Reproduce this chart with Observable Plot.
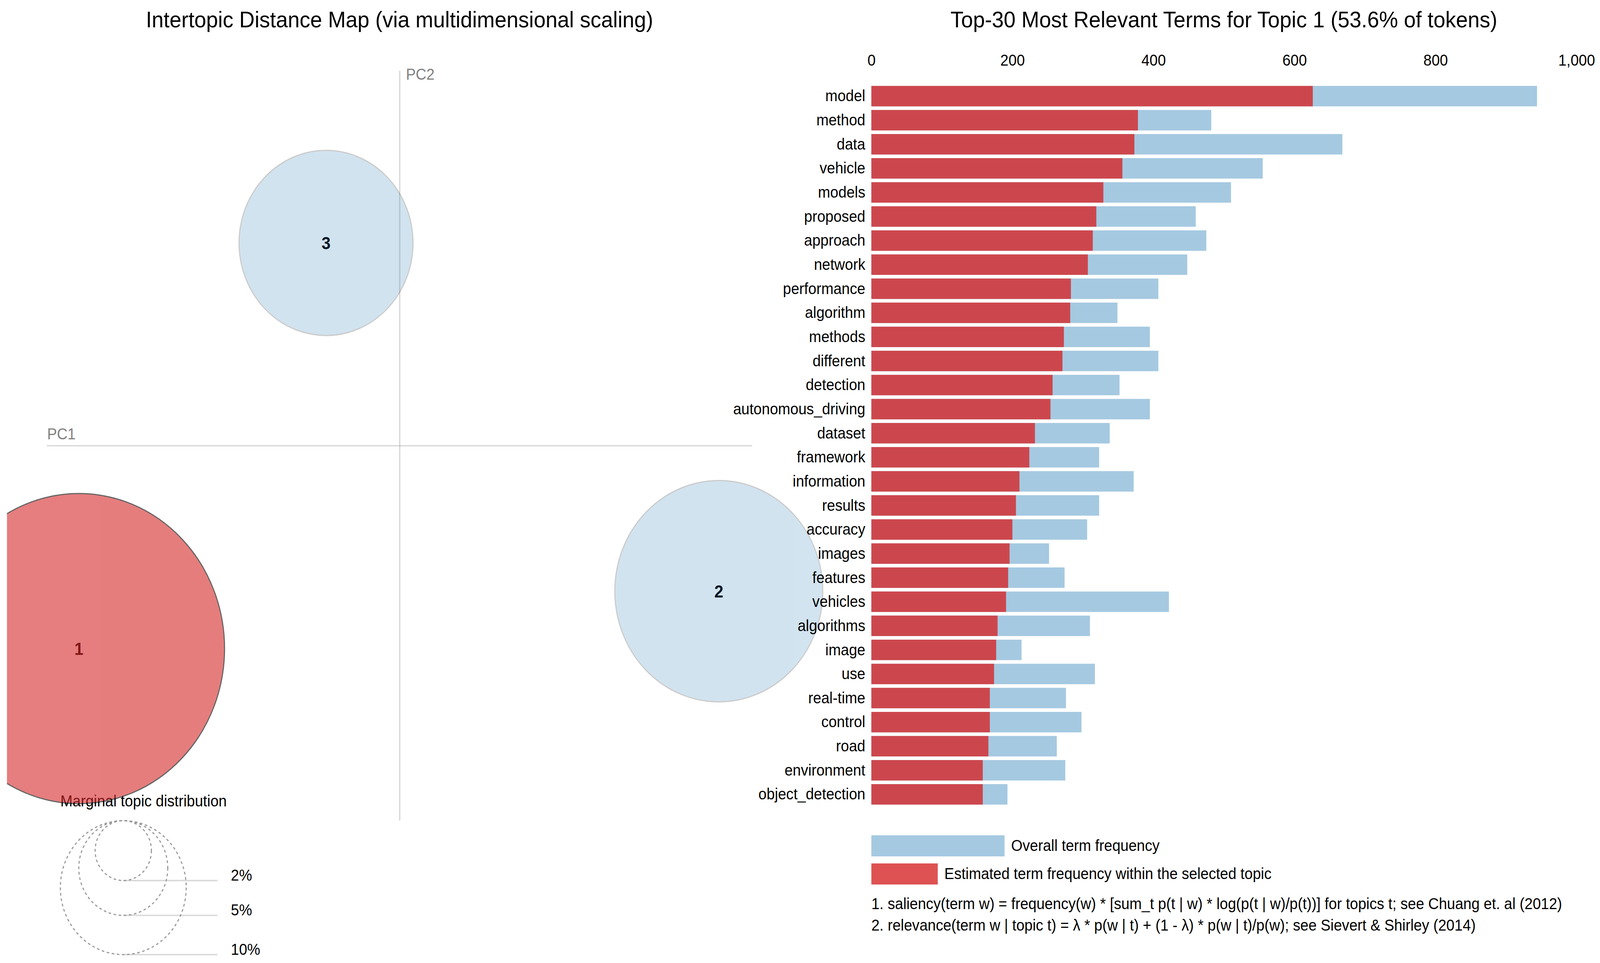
<!DOCTYPE html>
<html>
<head>
<meta charset="utf-8">
<script src="https://cdn.jsdelivr.net/npm/d3@7"></script>
<script src="https://cdn.jsdelivr.net/npm/@observablehq/plot@0.6"></script>
<style>
  html, body { margin: 0; padding: 0; background: #fff; overflow: hidden; }
  #page { position: absolute; left: 0; top: 0; width: 4361px; height: 2466px; background: #fff; overflow: hidden; transform-origin: 0 0; }
  #page svg { position: absolute; }
</style>
</head>
<body>
<div id="page"></div>
<script>
// ---------------- data ----------------
const topicIds  = [1, 2, 3];
const topicPC1  = [-0.910, 0.905, -0.209];
const topicPC2  = [-0.541, -0.388, 0.541];
const topicFreq = [53.6, 27.3, 19.1];   // % of tokens

const terms = ["model","method","data","vehicle","models","proposed","approach","network",
  "performance","algorithm","methods","different","detection","autonomous_driving","dataset",
  "framework","information","results","accuracy","images","features","vehicles","algorithms",
  "image","use","real-time","control","road","environment","object_detection"];
const estFreq   = [626, 378, 373, 356, 329, 319, 314, 307, 283, 282, 273, 271, 257, 254, 232,
  224, 210, 205, 200, 196, 194, 191, 179, 177, 174, 168, 168, 166, 158, 158];
const totalFreq = [944, 482, 668, 555, 510, 460, 475, 448, 407, 349, 395, 407, 352, 395, 338,
  323, 372, 323, 306, 252, 274, 422, 310, 213, 317, 276, 298, 263, 275, 193];
const xTicks = [0, 200, 400, 600, 800, 1000];
const legendSizes = [2, 5, 10];

const leftTitle  = "Intertopic Distance Map (via multidimensional scaling)";
const rightTitle = "Top-30 Most Relevant Terms for Topic 1 (53.6% of tokens)";
const legendTitle = "Marginal topic distribution";
const barLegend = ["Overall term frequency", "Estimated term frequency within the selected topic"];
const notes = [
  "1. saliency(term w) = frequency(w) * [sum_t p(t | w) * log(p(t | w)/p(t))] for topics t; see Chuang et. al (2012)",
  "2. relevance(term w | topic t) = \u03bb * p(w | t) + (1 - \u03bb) * p(w | t)/p(w); see Sievert & Shirley (2014)"
];

// ---------------- build ----------------
const FONT = "'Liberation Sans', Arial, Helvetica, sans-serif";
const page = document.getElementById("page");
const sx = (window.innerWidth || 4361) / 4361;
const sy = (window.innerHeight || 2466) / 2466;
page.style.transform = `scale(${sx}, ${sy})`;

const topics = topicIds.map((id, i) => ({id, pc1: topicPC1[i], pc2: topicPC2[i], freq: topicFreq[i]}));
const termRows = terms.map((t, i) => ({term: t, est: estFreq[i], total: totalFreq[i]}));

const R10 = 171.5;
const rOpts = {type: "sqrt", domain: [0, 10], range: [0, R10]};
const blue = "#1f77b4", red = "#d62728";

function place(el, x, y) { el.style.left = x + "px"; el.style.top = y + "px"; page.appendChild(el); }
function addText(str, x, baseline, size, anchor = "start", color = "#000") {
  const d = document.createElement("div");
  d.textContent = str;
  Object.assign(d.style, {position: "absolute", fontSize: size + "px", lineHeight: size + "px",
    whiteSpace: "nowrap", color, fontFamily: FONT});
  if (anchor === "middle") d.style.transform = "translateX(-50%)";
  place(d, x, baseline - 0.8465 * size);
}
function addRect(x, y, w, h, color) {
  const d = document.createElement("div");
  Object.assign(d.style, {position: "absolute", width: w + "px", height: h + "px", background: color});
  place(d, x, y);
}

// Left panel: MDS map
const left = Plot.plot({
  width: 2281, height: 2466,
  marginLeft: 109, marginRight: 250, marginTop: 181, marginBottom: 365,
  x: {domain: [-1, 1], axis: null},
  y: {domain: [-1, 1], axis: null},
  r: rOpts,
  style: {fontFamily: FONT, fontSize: "40px", background: "transparent", overflow: "hidden"},
  marks: [
    Plot.ruleY([0], {stroke: "gray", strokeOpacity: 0.3, strokeWidth: 3.6}),
    Plot.ruleX([0], {stroke: "gray", strokeOpacity: 0.3, strokeWidth: 3.6}),
    Plot.text(["PC1"], {y: [0], frameAnchor: "left", textAnchor: "start", lineAnchor: "bottom", dy: -17, fill: "gray", fontSize: 40}),
    Plot.text(["PC2"], {x: [0], frameAnchor: "top", textAnchor: "start", lineAnchor: "bottom", dx: 17, dy: 22, fill: "gray", fontSize: 40}),
    Plot.text([legendTitle], {frameAnchor: "bottom-left", textAnchor: "start", lineAnchor: "bottom", dx: 36, dy: -37, fontSize: 40, fill: "#000"}),
    Plot.text(topics, {x: "pc1", y: "pc2", text: d => String(d.id), fontWeight: "bold", fontSize: 44, dy: 2, fill: "#000"}),
    Plot.dot(topics.filter(d => d.id !== 1), {x: "pc1", y: "pc2", r: "freq", fill: blue, stroke: "black", strokeWidth: 3, opacity: 0.2}),
    Plot.dot(topics.filter(d => d.id === 1), {x: "pc1", y: "pc2", r: "freq", fill: red, stroke: "black", strokeWidth: 3, opacity: 0.6})
  ]
});
left.style.left = "19px"; left.style.top = "0px";
page.appendChild(left);

// Circle-size legend
const rScale = Plot.scale({r: rOpts});
const legendData = legendSizes.map(v => ({v, label: v + "%", rad: rScale.apply(v)}));
const lcx = 36 + R10, ltop = 41, lcx2 = lcx + 1.5 * R10;
const legendPlot = Plot.plot({
  width: 720, height: 406, margin: 0,
  x: {type: "identity", axis: null},
  y: {type: "identity", axis: null},
  r: rOpts,
  style: {fontFamily: FONT, fontSize: "40px", background: "transparent"},
  marks: [
    Plot.ruleY(legendData, {y: d => ltop + 2 * d.rad, x1: lcx, x2: lcx2, stroke: "gray", strokeOpacity: 0.3, strokeWidth: 3.6}),
    Plot.dot(legendData, {x: lcx, y: d => ltop + d.rad, r: "v", fill: "none", stroke: "#999", strokeWidth: 3, strokeDasharray: "7 7"}),
    Plot.text(legendData, {x: lcx2 + 36, y: d => ltop + 2 * d.rad, text: "label", textAnchor: "start", lineAnchor: "bottom", fontSize: 40, fill: "#000"})
  ]
});
legendPlot.style.left = "128px"; legendPlot.style.top = "2060px";
page.appendChild(legendPlot);

// Right panel: bar chart
const right = Plot.plot({
  width: 2461, height: 2100,
  marginLeft: 475, marginRight: 64, marginTop: 210.7, marginBottom: 30.4,
  x: {domain: [0, 1000], axis: "top", ticks: xTicks, tickFormat: d3.format(","), tickSize: 0, tickPadding: 43, label: null},
  y: {domain: terms, padding: 0.15, round: false, axis: "left", tickSize: 0, tickPadding: 17, label: null},
  style: {fontFamily: FONT, fontSize: "40px", background: "transparent", color: "#000"},
  marks: [
    Plot.barX(termRows, {x: "total", y: "term", fill: blue, fillOpacity: 0.4}),
    Plot.barX(termRows, {x: "est", y: "term", fill: red, fillOpacity: 0.8})
  ]
});
right.style.left = "1900px"; right.style.top = "0px";
page.appendChild(right);

// Titles
addText(leftTitle, 1089, 70, 58, "middle");
addText(rightTitle, 3336, 70, 58, "middle");

// Bar legend
addRect(2375, 2139, 362.6, 54, "rgba(31,119,180,0.4)");
addText(barLegend[0], 2756, 2179, 40);
addRect(2375, 2211, 181.3, 54, "rgba(214,39,40,0.8)");
addText(barLegend[1], 2574, 2251, 40);

// Footnotes
addText(notes[0], 2375, 2328, 40);
addText(notes[1], 2375, 2383, 40);
</script>
</body>
</html>
